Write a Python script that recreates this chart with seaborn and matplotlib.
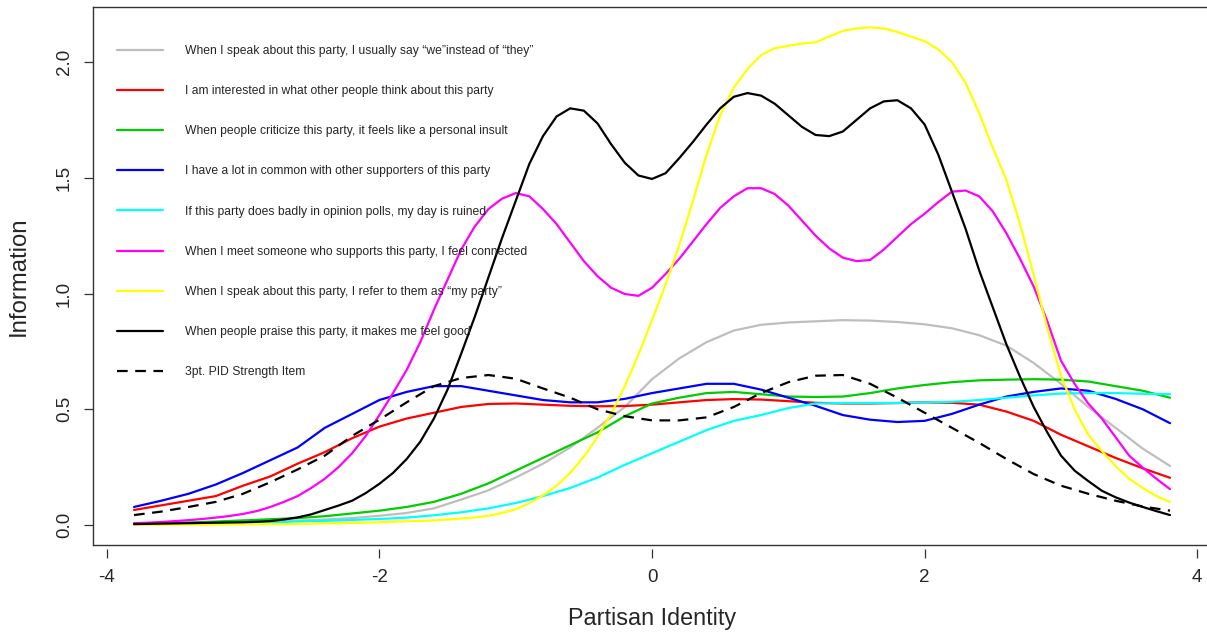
import numpy as np
import pandas as pd
import matplotlib
matplotlib.use("Agg")
import matplotlib.pyplot as plt
import seaborn as sns

# Latent trait grids (theta): coarse for the flat items, fine for the peaked ones
theta = np.round(np.linspace(-3.8, 3.8, 39), 2)
theta_fine = np.round(np.linspace(-3.8, 3.8, 77), 2)

# Item information curves
info_we = [0.004, 0.005, 0.007, 0.009, 0.012, 0.015, 0.019, 0.024, 0.030, 0.040,
           0.052, 0.072, 0.110, 0.150, 0.205, 0.265, 0.335, 0.420, 0.510, 0.630,
           0.720, 0.790, 0.840, 0.865, 0.875, 0.880, 0.885, 0.883, 0.877, 0.867,
           0.850, 0.820, 0.775, 0.700, 0.610, 0.510, 0.420, 0.330, 0.255]
info_interested = [0.065, 0.085, 0.105, 0.125, 0.170, 0.210, 0.265, 0.315, 0.375, 0.425,
                   0.460, 0.485, 0.510, 0.523, 0.525, 0.520, 0.515, 0.513, 0.514, 0.520,
                   0.530, 0.540, 0.544, 0.542, 0.535, 0.528, 0.525, 0.525, 0.527, 0.530,
                   0.528, 0.520, 0.490, 0.450, 0.390, 0.340, 0.290, 0.245, 0.204]
info_insult = [0.006, 0.008, 0.011, 0.015, 0.020, 0.025, 0.030, 0.038, 0.050, 0.062,
               0.078, 0.100, 0.135, 0.180, 0.235, 0.290, 0.345, 0.400, 0.470, 0.525,
               0.550, 0.570, 0.575, 0.565, 0.555, 0.553, 0.555, 0.570, 0.590, 0.605,
               0.617, 0.625, 0.628, 0.630, 0.628, 0.620, 0.600, 0.580, 0.550]
info_common = [0.078, 0.105, 0.135, 0.175, 0.225, 0.280, 0.335, 0.420, 0.480, 0.540,
               0.575, 0.600, 0.600, 0.580, 0.560, 0.540, 0.530, 0.530, 0.545, 0.570,
               0.590, 0.610, 0.610, 0.585, 0.550, 0.515, 0.475, 0.455, 0.445, 0.450,
               0.480, 0.520, 0.555, 0.575, 0.590, 0.580, 0.545, 0.500, 0.440]
info_polls = [0.004, 0.005, 0.006, 0.008, 0.010, 0.012, 0.015, 0.018, 0.022, 0.026,
              0.032, 0.042, 0.055, 0.072, 0.095, 0.125, 0.160, 0.205, 0.260, 0.310,
              0.360, 0.410, 0.450, 0.475, 0.505, 0.525, 0.527, 0.527, 0.527, 0.530,
              0.532, 0.540, 0.550, 0.560, 0.568, 0.570, 0.570, 0.567, 0.565]
info_connected = [0.008, 0.010, 0.013, 0.017, 0.021, 0.026, 0.032, 0.039, 0.048, 0.060,
                  0.078, 0.100, 0.125, 0.160, 0.200, 0.250, 0.310, 0.385, 0.475, 0.570,
                  0.670, 0.790, 0.930, 1.060, 1.190, 1.290, 1.365, 1.410, 1.434, 1.420,
                  1.365, 1.300, 1.220, 1.140, 1.075, 1.025, 0.998, 0.990, 1.025, 1.085,
                  1.150, 1.225, 1.300, 1.370, 1.420, 1.455, 1.455, 1.430, 1.380, 1.315,
                  1.250, 1.195, 1.155, 1.140, 1.145, 1.190, 1.245, 1.300, 1.345, 1.395,
                  1.440, 1.445, 1.420, 1.355, 1.260, 1.150, 1.030, 0.880, 0.710, 0.610,
                  0.525, 0.460, 0.380, 0.300, 0.248, 0.200, 0.155]
info_myparty = [0.001, 0.001, 0.001, 0.002, 0.002, 0.002, 0.002, 0.003, 0.003, 0.003,
                0.004, 0.004, 0.005, 0.006, 0.007, 0.008, 0.009, 0.010, 0.012, 0.014,
                0.016, 0.018, 0.020, 0.024, 0.028, 0.033, 0.040, 0.052, 0.068, 0.095,
                0.128, 0.170, 0.225, 0.295, 0.380, 0.480, 0.600, 0.735, 0.885, 1.040,
                1.210, 1.400, 1.600, 1.770, 1.890, 1.970, 2.030, 2.060, 2.070, 2.080,
                2.085, 2.110, 2.135, 2.145, 2.150, 2.145, 2.130, 2.110, 2.090, 2.055,
                2.000, 1.910, 1.780, 1.630, 1.490, 1.300, 1.080, 0.850, 0.645, 0.500,
                0.390, 0.320, 0.255, 0.200, 0.160, 0.125, 0.100]
info_praise = [0.004, 0.005, 0.006, 0.007, 0.008, 0.009, 0.010, 0.011, 0.012, 0.014,
               0.017, 0.024, 0.033, 0.046, 0.065, 0.084, 0.105, 0.138, 0.178, 0.225,
               0.285, 0.360, 0.460, 0.585, 0.740, 0.900, 1.070, 1.240, 1.400, 1.560,
               1.680, 1.765, 1.800, 1.790, 1.735, 1.645, 1.565, 1.510, 1.495, 1.520,
               1.585, 1.655, 1.730, 1.800, 1.850, 1.866, 1.855, 1.820, 1.770, 1.720,
               1.685, 1.680, 1.700, 1.750, 1.800, 1.830, 1.835, 1.800, 1.730, 1.600,
               1.440, 1.280, 1.100, 0.940, 0.780, 0.640, 0.510, 0.400, 0.300, 0.235,
               0.190, 0.148, 0.120, 0.097, 0.078, 0.060, 0.043]
info_pid3 = [0.043, 0.058, 0.078, 0.100, 0.135, 0.185, 0.240, 0.300, 0.385, 0.455,
             0.530, 0.600, 0.635, 0.648, 0.632, 0.590, 0.550, 0.500, 0.470, 0.452,
             0.452, 0.465, 0.510, 0.570, 0.617, 0.645, 0.648, 0.610, 0.550, 0.485,
             0.420, 0.355, 0.285, 0.220, 0.170, 0.135, 0.105, 0.080, 0.062]

item_labels = [
    "When I speak about this party, I usually say \u201cwe\u201dinstead of \u201cthey\u201d",
    "I am interested in what other people think about this party",
    "When people criticize this party, it feels like a personal insult",
    "I have a lot in common with other supporters of this party",
    "If this party does badly in opinion polls, my day is ruined",
    "When I meet someone who supports this party, I feel connected",
    "When I speak about this party, I refer to them as \u201cmy party\u201d",
    "When people praise this party, it makes me feel good",
    "3pt. PID Strength Item",
]
item_colors = ["#BEBEBE", "#FF0000", "#00CD00", "#0000FF", "#00FFFF",
               "#FF00FF", "#FFFF00", "#000000", "#000000"]
series = [info_we, info_interested, info_insult, info_common, info_polls,
          info_connected, info_myparty, info_praise, info_pid3]

x_ticks = [-4, -2, 0, 2, 4]
y_ticks = [0.0, 0.5, 1.0, 1.5, 2.0]

sns.set_style("white")
plt.rcParams["font.family"] = ["Liberation Sans", "DejaVu Sans"]

fig = plt.figure(figsize=(12.07, 6.35), dpi=100)
ax = fig.add_axes([0.07705, 0.1417, 0.9263, 0.8472])

frame_color = "#333333"
for vals, lab, col in zip(series, item_labels, item_colors):
    grid = theta_fine if len(vals) == len(theta_fine) else theta
    df = pd.DataFrame({"theta": grid, "info": vals})
    sns.lineplot(data=df, x="theta", y="info", color=col, lw=1.6,
                 ax=ax, label=lab)
ax.lines[-1].set_dashes((4.8, 3.4))

ax.set_xlim(-4.101, 4.101)
ax.set_ylim(-0.0864, 2.2376)
ax.set_xticks(x_ticks)
ax.set_xticklabels([str(t) for t in x_ticks])
ax.set_yticks(y_ticks)
ax.set_yticklabels([f"{t:.1f}" for t in y_ticks], rotation=90, va="center")

for side in ["left", "top", "right", "bottom"]:
    ax.spines[side].set_color(frame_color)
    ax.spines[side].set_linewidth(1.0)
# x-axis ticks sit slightly below the frame
ax.spines["bottom"].set_position(("outward", 3))
ax.spines["bottom"].set_visible(False)
ax.plot([0, 1], [0, 0], transform=ax.transAxes, color=frame_color,
        lw=1.0, clip_on=False)

ax.tick_params(axis="both", direction="out", length=6.5, width=0.9,
               color=frame_color, labelsize=13.5, bottom=True, left=True)
ax.tick_params(axis="x", pad=8)
ax.tick_params(axis="y", pad=8)

ax.set_xlabel("Partisan Identity", fontsize=16.8, labelpad=15)
ax.set_ylabel("Information", fontsize=17.2, labelpad=19)

ax.legend(loc="upper left", bbox_to_anchor=(117 / 1207, 1 - 45 / 635),
          bbox_transform=fig.transFigure, frameon=False, fontsize=8.7,
          handlelength=3.8, handletextpad=1.8, labelspacing=2.33,
          borderpad=0, borderaxespad=0)

fig.savefig("out.png", dpi=100)
